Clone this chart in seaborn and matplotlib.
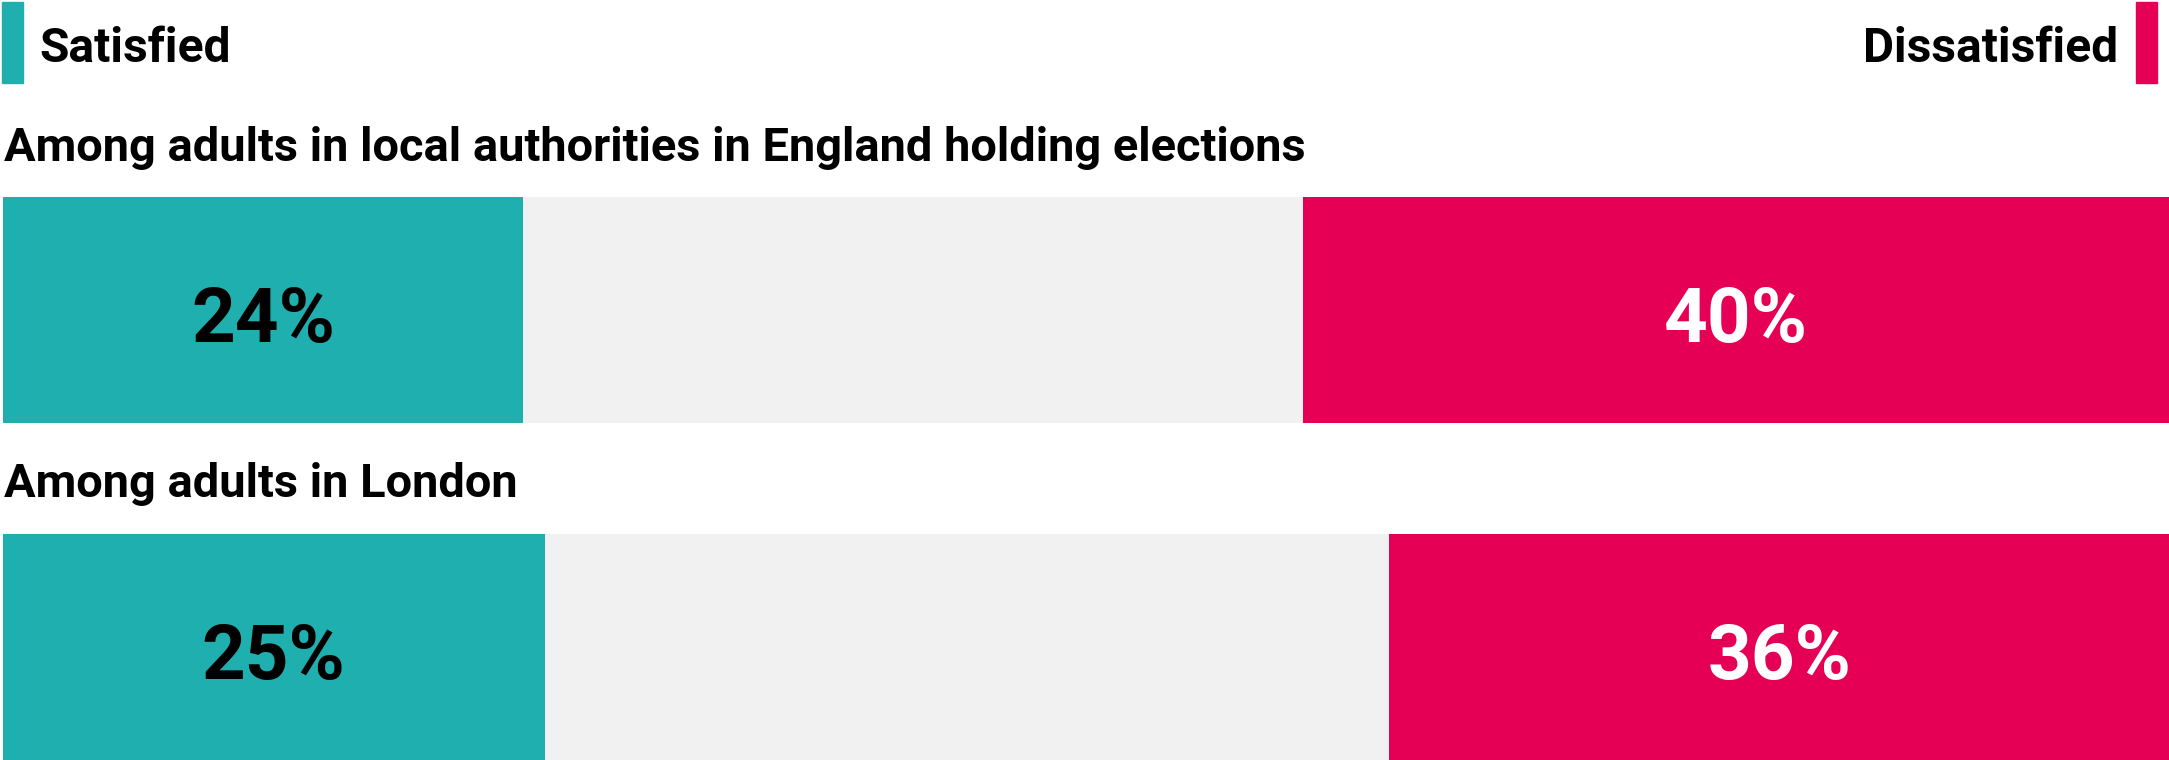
#Importing libraries
import matplotlib
matplotlib.use("Agg")
import matplotlib.pyplot as plt
import seaborn as sns

#Chart data
groups = ["Among adults in local authorities in England holding elections",
          "Among adults in London"]
satisfied = [24, 25]
dissatisfied = [40, 36]
legend_labels = ["Satisfied", "Dissatisfied"]

#Colours
teal = "#1eafae"
pink = "#e50056"
grey = "#f1f1f1"

sns.set_style("white")
plt.rcParams['font.family'] = ['Roboto', 'DejaVu Sans']

W, H = 2169, 760
fig = plt.figure(figsize=(W / 100, H / 100), dpi=100)

#Axes covers the two bars (pixel 197 to bottom)
ax = fig.add_axes([3 / W, 0, (W - 3) / W, (H - 197) / H])

bar_w = 0.673
rest = [100 - d for d in dissatisfied]
#pink full length, grey up to where dissatisfied starts, teal on top
sns.barplot(x=[100] * len(groups), y=groups, color=pink, width=bar_w, saturation=1,
            linewidth=0, orient='h', ax=ax)
sns.barplot(x=rest, y=groups, color=grey, width=bar_w, saturation=1,
            linewidth=0, orient='h', ax=ax)
sns.barplot(x=satisfied, y=groups, color=teal, width=bar_w, saturation=1,
            linewidth=0, orient='h', ax=ax)

ax.set_xlim(0, 100)
ax.set_ylim(1.336, -0.336)
ax.axis('off')

#Value labels inside bars
for i, (s, d) in enumerate(zip(satisfied, dissatisfied)):
    ax.text(s / 2, i + 0.094, f"{s}%", ha='center', va='baseline',
            fontsize=55, fontweight='bold', color='black')
    ax.text(100 - d / 2, i + 0.094, f"{d}%", ha='center', va='baseline',
            fontsize=55, fontweight='bold', color='white')

#Group headings above each bar
heading_base = [161, 497]
for g, yb in zip(groups, heading_base):
    fig.text(4 / W, 1 - yb / H, g, ha='left', va='baseline',
             fontsize=33.8, fontweight='bold', color='black')

#Legend swatches and labels
fig.patches.append(plt.Rectangle((2 / W, 1 - 83 / H), 21 / W, 81 / H,
                                 transform=fig.transFigure, color=teal))
fig.patches.append(plt.Rectangle((2136 / W, 1 - 83 / H), 21 / W, 81 / H,
                                 transform=fig.transFigure, color=pink))
fig.text(39 / W, 1 - 62 / H, legend_labels[0], ha='left', va='baseline',
         fontsize=34.5, fontweight='bold', color='black')
fig.text(2118 / W, 1 - 62 / H, legend_labels[1], ha='right', va='baseline',
         fontsize=34.5, fontweight='bold', color='black')

plt.savefig('out.png', dpi=100, facecolor='white')
